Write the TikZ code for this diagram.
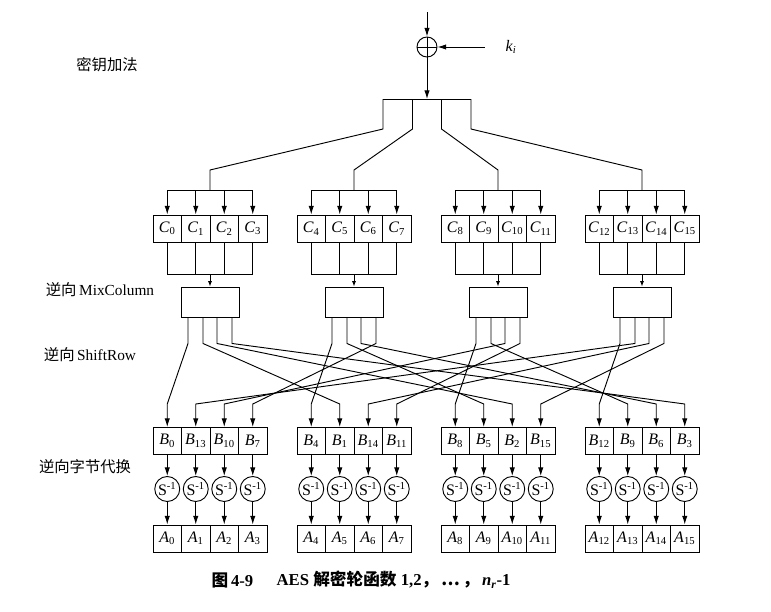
\documentclass[tikz,border=0pt]{standalone}
\usepackage{fontspec}
\setmainfont{Liberation Serif}
\newfontfamily\cjk{Noto Sans CJK SC}
\usetikzlibrary{arrows.meta}
\newcommand\lbl[2]{\textit{#1}\textsubscript{#2}}
\tikzset{
  wire/.style={line width=0.7pt},
  arr/.style={wire, -{Latex[length=6.5pt,width=4pt]}},
  arrs/.style={wire, -{Latex[length=4pt,width=3pt]}},
  cell/.style={draw, line width=0.7pt, minimum width=21.4pt, minimum height=20.3pt, inner sep=0pt, font=\fontsize{12}{12}\selectfont},
  sbox/.style={draw, circle, line width=0.7pt, minimum size=18.75pt, inner sep=0pt, font=\fontsize{12}{12}\selectfont},
  mixbox/.style={draw, line width=0.7pt, minimum width=43.5pt, minimum height=22.5pt, inner sep=0pt},
  lab/.style={font=\fontsize{11.5}{13}\selectfont},
  capt/.style={font=\fontsize{12.5}{14}\selectfont\bfseries},
}
\begin{document}
\begin{tikzpicture}[x=0.75pt, y=-0.75pt]
\useasboundingbox (0,0) rectangle (771,611);

% key addition
\node[circle, draw, line width=0.7pt, minimum size=15pt, inner sep=0pt] (xor) at (427,47) {};
\draw[wire] (xor.north) -- (xor.south) (xor.west) -- (xor.east);
\coordinate (in) at (427,12);
\draw[arr] (in) -- (xor.north);
\node[font=\fontsize{12}{12}\selectfont] (k) at (511,47) {\textit{k}\textsubscript{\textit{i}}};
\draw[arr, shorten <=12pt] (k.west) -- (xor.east);
\coordinate (top) at (427,99);
\draw[arr] (xor.south) -- (top);
\draw[wire] (383,99) -- (471,99);

% columns: C, mix column, B, S-boxes, A
\foreach \g in {0,...,3}{
  \pgfmathsetmacro\gx{153+144*\g}
  \pgfmathsetmacro\gc{\gx+57}
  \coordinate (fan\g) at (\gc,190);
  \coordinate (col\g) at (\gc,274);
  \node[mixbox] (mix\g) at (\gc,302) {};
  \foreach \j in {0,...,3}{
    \pgfmathsetmacro\cx{\gx+14.25+28.5*\j}
    \pgfmathtruncatemacro\i{4*\g+\j}
    \pgfmathtruncatemacro\lb{4*mod(\g-\j+4,4)+\j}
    \node[cell] (c\i) at (\cx,228.5) {\lbl{C}{\i}};
    \node[cell] (b\i) at (\cx,441) {\lbl{B}{\lb}};
    \node[sbox] (s\i) at (\cx,489) {S\textsuperscript{-1}};
    \node[cell] (a\i) at (\cx,538.5) {\lbl{A}{\i}};
    \draw[arr] (fan\g -| c\i) -- (c\i.north);
    \draw[wire] (c\i.south) -- (col\g -| c\i);
    \draw[arr] (b\i.south) -- (s\i.north);
    \draw[arr] (s\i.south) -- (a\i.north);
  }
  \draw[arrs] (col\g) -- (mix\g.north);
}

% fan out from the key addition, bars over the columns
\foreach \g/\tx in {0/383,1/412.5,2/441.5,3/471}{
  \pgfmathtruncatemacro\f{4*\g}
  \pgfmathtruncatemacro\l{4*\g+3}
  \draw[wire] (\tx,99) -- (\tx,129) -- ([yshift=15pt]fan\g) -- (fan\g);
  \draw[wire] (fan\g -| c\f) -- (fan\g -| c\l);
  \draw[wire] (col\g -| c\f) -- (col\g -| c\l);
}

% inverse shift row wiring
\foreach \g in {0,...,3}{
  \foreach \j/\dx in {0/-16.5pt,1/-5.25pt,2/5.25pt,3/16.5pt}{
    \pgfmathtruncatemacro\t{4*mod(\g+\j,4)+\j}
    \draw[arr] ([xshift=\dx]mix\g.south) -- ++(0,26) -- ([yshift=17.25pt]b\t.north) -- (b\t.north);
  }
}

% labels
\node[lab] (l1) at (107,65) {\cjk 密钥加法};
\node[lab] (l2) at (100,290) {{\cjk 逆向}\,MixColumn};
\node[lab] (l3) at (90,355) {{\cjk 逆向}\,ShiftRow};
\node[lab] (l4) at (85,467) {\cjk 逆向字节代换};

% caption
\node[capt, anchor=east] (fig) at (258,580) {{\cjk 图}\,4-9};
\node[capt, anchor=west] (cap) at (272,580)
  {AES {\cjk 解密轮函数} 1,2{\cjk ，\,…\,，}\,\textit{n}\textsubscript{\textit{r}}-1};
\end{tikzpicture}
\end{document}
